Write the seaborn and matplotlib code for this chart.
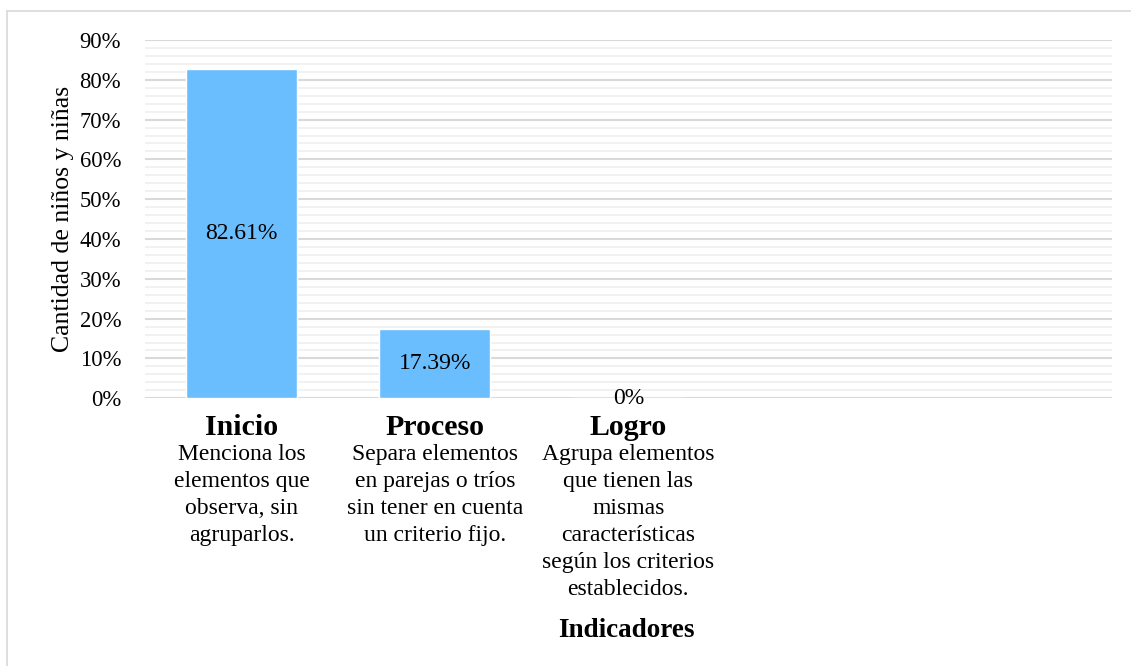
import matplotlib
matplotlib.use("Agg")
import matplotlib.pyplot as plt
import matplotlib.ticker as mticker
from matplotlib.lines import Line2D
import pandas as pd
import seaborn as sns

# Data
categories = ["Inicio", "Proceso", "Logro"]
descriptions = [
    "Menciona los\nelementos que\nobserva, sin\nagruparlos.",
    "Separa elementos\nen parejas o tríos\nsin tener en cuenta\nun criterio fijo.",
    "Agrupa elementos\nque tienen las\nmismas\ncaracterísticas\nsegún los criterios\nestablecidos.",
]
values = [0.8261, 0.1739, 0.0]
value_labels = ["82.61%", "17.39%", "0%"]

sns.set_style("white")
plt.rcParams['font.family'] = ['Liberation Serif', 'DejaVu Serif']
plt.rcParams['text.color'] = 'black'
plt.rcParams['axes.labelcolor'] = 'black'
plt.rcParams['xtick.color'] = 'black'
plt.rcParams['ytick.color'] = 'black'

df = pd.DataFrame({"Indicador": categories, "Porcentaje": values})

fig, ax = plt.subplots(figsize=(11.31, 6.66), dpi=100)
fig.subplots_adjust(left=0.128, right=0.983, bottom=0.402, top=0.94)

sns.barplot(data=df, x="Indicador", y="Porcentaje", color="#6BBEFE",
            saturation=1, width=0.573, ax=ax, zorder=3)

# five category slots, only three are used
ax.set_xlim(-0.5, 4.5)
ax.set_ylim(0, 0.9)
ax.yaxis.set_major_locator(mticker.MultipleLocator(0.1))
ax.yaxis.set_minor_locator(mticker.MultipleLocator(0.02))
ax.yaxis.set_major_formatter(mticker.PercentFormatter(1.0, decimals=0))

ax.grid(axis='y', which='minor', color='#F0F0F0', lw=1.3)
ax.grid(axis='y', which='major', color='#D9D9D9', lw=1.5)
ax.set_axisbelow(True)
for s in ax.spines.values():
    s.set_visible(False)

ax.tick_params(axis='y', which='both', length=0, pad=17, labelsize=16.3)
ax.tick_params(axis='x', length=0, pad=11)
ax.set_xticks(range(len(categories)))
ax.set_xticklabels(categories, fontsize=21.5, fontweight='bold')

# descriptions under each category name
for i, d in enumerate(descriptions):
    ax.annotate(d, xy=(i, 0), xycoords=('data', 'axes fraction'),
                xytext=(0, -46), textcoords='offset pixels',
                ha='center', va='top', fontsize=17, linespacing=1.37)

# data labels centred on bars
for i, (v, lab) in enumerate(zip(values, value_labels)):
    ax.text(i, v / 2, lab, ha='center', va='center', fontsize=17, zorder=4)

ax.set_ylabel("Cantidad de niños y niñas", fontsize=18.5)
ax.yaxis.set_label_coords(-0.073, 0.5)
ax.set_xlabel("Indicadores", fontsize=19.5, fontweight='bold')
ax.xaxis.set_label_coords(0.4985, -0.612)
ax.xaxis.label.set_va('top')

# chart area border (left and top visible)
fig.add_artist(Line2D([7 / 1131, 7 / 1131], [0, 1 - 11 / 666], color='#D9D9D9', lw=1.2))
fig.add_artist(Line2D([7 / 1131, 1], [1 - 11 / 666, 1 - 11 / 666], color='#D9D9D9', lw=1.2))

fig.savefig("out.png", dpi=100)
